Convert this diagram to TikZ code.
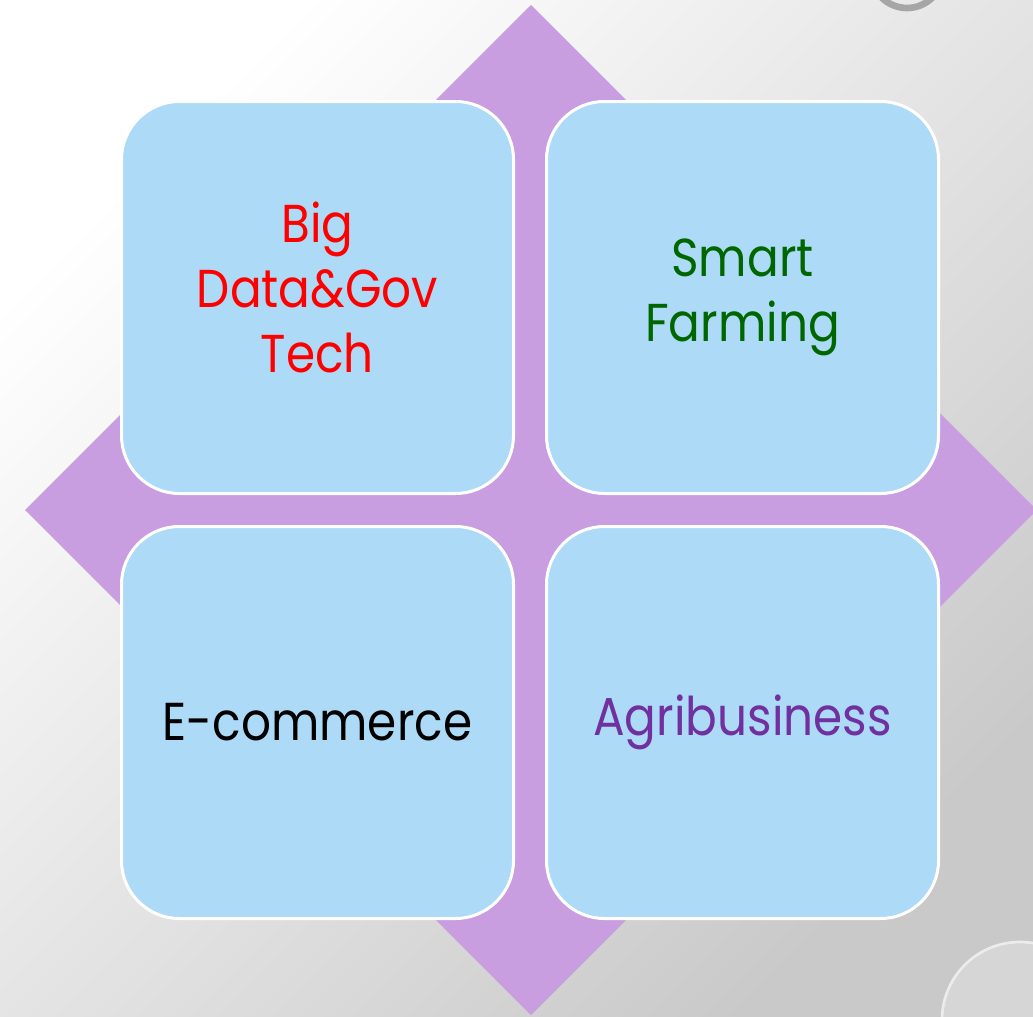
\documentclass[tikz,border=0pt]{standalone}
\usepackage{fontspec}
\setmainfont[FakeStretch=0.88]{Poppins}
\usetikzlibrary{positioning}

\definecolor{tileblue}{HTML}{ADDAF7}
\definecolor{rhombpurple}{HTML}{C89EE0}
\definecolor{agripurple}{HTML}{7030A0}
\definecolor{farmgreen}{HTML}{006600}

\tikzset{
	tile/.style={draw=white, line width=2.25pt, fill=tileblue, rounded corners=43.5pt,
		minimum width=294pt, minimum height=294pt, inner sep=0pt, align=center,
		font=\fontsize{40}{48.75}\selectfont},
}

\begin{document}
\begin{tikzpicture}[x=0.75pt,y=-0.75pt]
	\clip (0,0) rectangle (1033,1017);
	\shade[top color=white, bottom color=gray!42, shading angle=45] (0,0) rectangle (1033,1017);
	% bubbles
	\draw[gray!70, line width=5pt] (907,-28) circle (36);
	\fill[white, opacity=0.25] (1020,1020) circle (78);
	\draw[white!85!gray, line width=2pt] (1020,1020) circle (78);
	% backdrop
	\fill[rhombpurple] (531,5) -- (1037,510) -- (531,1015) -- (25,510) -- cycle;
	
	\node[tile] (big) at (317.5,297.5) {\textcolor{red}{Big}\\\textcolor{red}{Data\&Gov}\\\textcolor{red}{Tech}\\[-34pt]};
	\node[tile] (smart) [right=22.5pt of big] {\textcolor{farmgreen}{Smart}\\\textcolor{farmgreen}{Farming}};
	\node[tile] (ecom) [below=22.5pt of big] {E-commerce};
	\node[tile] (agri) [right=22.5pt of ecom] {\textcolor{agripurple}{Agribusiness}};
\end{tikzpicture}
\end{document}
